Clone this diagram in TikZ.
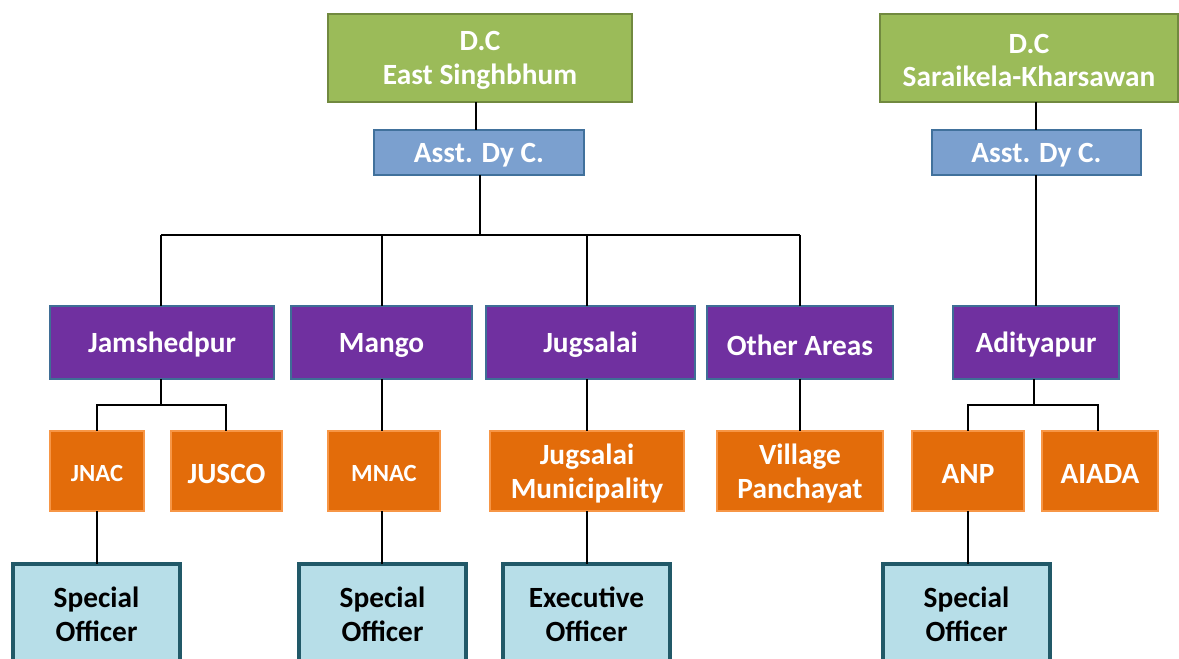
\documentclass[tikz,border=0pt]{standalone}
\usepackage{fontspec}
\setmainfont{Carlito}
\definecolor{gfill}{HTML}{9BBB59}
\definecolor{gline}{HTML}{71893F}
\definecolor{bfill}{HTML}{7BA0CF}
\definecolor{bline}{HTML}{41719C}
\definecolor{pfill}{HTML}{7030A0}
\definecolor{pline}{HTML}{3F6E96}
\definecolor{ofill}{HTML}{E36C0A}
\definecolor{oline}{HTML}{F79646}
\definecolor{tfill}{HTML}{B7DEE8}
\definecolor{tline}{HTML}{215968}
\tikzset{
  box/.style={draw, inner sep=0pt, outer sep=0pt},
  txt/.style={inner sep=0pt, align=center, font=\bfseries\fontsize{22}{25}\selectfont, text=white},
  dcbox/.style={box, fill=gfill, draw=gline, line width=1.2pt},
  asbox/.style={box, fill=bfill, draw=bline, line width=1.2pt},
  pbox/.style={box, fill=pfill, draw=pline, line width=1.2pt},
  obox/.style={box, fill=ofill, draw=oline, line width=1pt},
  sbox/.style={box, fill=tfill, draw=tline, line width=2.6pt},
  conn/.style={draw=black, line width=1.5pt},
}
\newcommand{\bx}[7]{% style, name, x1, y1, x2, y2, text
  \node[#1, minimum width={(#5-#3)*0.75pt}, minimum height={(#6-#4)*0.75pt}] (#2) at ({(#3+#5)/2},{(#4+#6)/2}) {};
  \node[txt] (#2-t) at ({(#3+#5)/2},{(#4+#6)/2+2.5}) {#7};}
\begin{document}
\begin{tikzpicture}[x=0.75pt, y=-0.75pt]
\clip (0,0) rectangle (1179,659);
\fill[white] (0,0) rectangle (1179,659);
% top
\bx{dcbox}{dce}{328}{14}{632}{102}{D.C\\East Singhbhum}
\bx{dcbox}{dcs}{880}{14}{1178}{102}{D.C\\Saraikela-Kharsawan}
\bx{asbox}{ase}{374}{130}{584}{175}{Asst. Dy C.}
\bx{asbox}{ass}{932}{130}{1141}{175}{Asst. Dy C.}
% purple
\bx{pbox}{jam}{50}{306}{274}{379}{Jamshedpur}
\bx{pbox}{man}{291}{306}{472}{379}{Mango}
\bx{pbox}{jug}{486}{306}{695}{379}{Jugsalai}
\bx{pbox}{oth}{707}{306}{893}{379}{Other Areas}
\bx{pbox}{adi}{953}{306}{1119}{379}{Adityapur}
% orange
\bx{obox}{jnac}{50}{431}{144}{511}{\fontsize{18.5}{22}\selectfont JNAC}
\bx{obox}{jusco}{171}{431}{282}{511}{JUSCO}
\bx{obox}{mnac}{328}{431}{440}{511}{\fontsize{18.5}{22}\selectfont MNAC}
\bx{obox}{jm}{490}{431}{684}{511}{Jugsalai\\Municipality}
\bx{obox}{vp}{717}{431}{883}{511}{Village\\Panchayat}
\bx{obox}{anp}{912}{431}{1024}{511}{ANP}
\bx{obox}{aiada}{1042}{431}{1158}{511}{AIADA}
% bottom (cut off by the frame)
\node[sbox, minimum width={167*0.75pt}, minimum height={150*0.75pt}, anchor=north] (so1) at (96.5,564) {};
\node[sbox, minimum width={167*0.75pt}, minimum height={150*0.75pt}, anchor=north] (so2) at (382.5,564) {};
\node[sbox, minimum width={167*0.75pt}, minimum height={150*0.75pt}, anchor=north] (eo) at (586.5,564) {};
\node[sbox, minimum width={167*0.75pt}, minimum height={150*0.75pt}, anchor=north] (so3) at (966.5,564) {};
\node[txt, text=black, anchor=north] (so1t) at (96.5,587) {Special\\Officer};
\node[txt, text=black, anchor=north] (so2t) at (382.5,587) {Special\\Officer};
\node[txt, text=black, anchor=north] (eot) at (586.5,587) {Executive\\Officer};
\node[txt, text=black, anchor=north] (so3t) at (966.5,587) {Special\\Officer};
% connectors
\coordinate (busL) at (161,235);
\coordinate (busR) at (800,235);
\draw[conn] (dce.south -| 476,0) -- (ase.north -| 476,0);
\draw[conn] (dcs.south -| 1036,0) -- (ass.north -| 1036,0);
\draw[conn] (ase.south -| 480,0) -- (480,235);
\draw[conn] (busL) -- (busR);
\draw[conn] (161,235) -- (jam.north -| 161,0);
\draw[conn] (382,235) -- (man.north -| 382,0);
\draw[conn] (587,235) -- (jug.north -| 587,0);
\draw[conn] (800,235) -- (oth.north -| 800,0);
\draw[conn] (ass.south -| 1036,0) -- (adi.north -| 1036,0);
\draw[conn] (jam.south -| 161,0) -- (161,405);
\draw[conn] (jnac.north -| 97,0) -- (97,405) -- (226,405) -- (jusco.north -| 226,0);
\draw[conn] (man.south -| 382,0) -- (mnac.north -| 382,0);
\draw[conn] (jug.south -| 587,0) -- (jm.north -| 587,0);
\draw[conn] (oth.south -| 800,0) -- (vp.north -| 800,0);
\draw[conn] (adi.south -| 1034,0) -- (1034,405);
\draw[conn] (anp.north -| 968,0) -- (968,405) -- (1098,405) -- (aiada.north -| 1098,0);
\draw[conn] (jnac.south -| 97,0) -- (so1.north -| 97,0);
\draw[conn] (mnac.south -| 382,0) -- (so2.north -| 382,0);
\draw[conn] (jm.south -| 587,0) -- (eo.north -| 587,0);
\draw[conn] (anp.south -| 968,0) -- (so3.north -| 968,0);
\end{tikzpicture}
\end{document}
